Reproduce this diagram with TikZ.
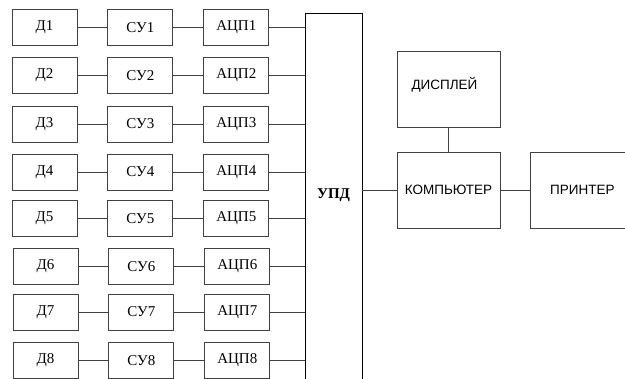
\documentclass[tikz,border=0pt]{standalone}
\usepackage{fontspec}
\setmainfont{Liberation Serif}
\newfontfamily\sansru{Liberation Sans}
\usetikzlibrary{positioning}
\tikzset{
    blk/.style={
        draw=black!75,
        line width=0.9pt,
        minimum height=36pt,
        minimum width=65pt,
        inner sep=0pt,
        font=\fontsize{15}{17}\selectfont
    },
    bigblk/.style={
        draw=black!75,
        line width=0.9pt,
        minimum height=76pt,
        minimum width=103pt,
        inner sep=0pt,
        font=\sansru\fontsize{13.5}{15}\selectfont
    },
    link/.style={draw=black!75, line width=0.9pt}
}

\begin{document}
\begin{tikzpicture}[x=1pt,y=-1pt,node distance=30pt and 30pt]
        \useasboundingbox (0,0) rectangle (625,379);
        \clip (0,0) rectangle (625,379);

        % датчики, СУ, АЦП
        \node[blk] (d1) at (44.5,27.5) {Д1};
        \node[blk, right=of d1] (su1) {СУ1};
        \node[blk, right=of su1] (adc1) {АЦП1};
        \node[blk] (d2) at (44.5,75.5) {Д2};
        \node[blk, right=of d2] (su2) {СУ2};
        \node[blk, right=of su2] (adc2) {АЦП2};
        \node[blk] (d3) at (44.5,124) {Д3};
        \node[blk, right=of d3] (su3) {СУ3};
        \node[blk, right=of su3] (adc3) {АЦП3};
        \node[blk] (d4) at (44.5,172) {Д4};
        \node[blk, right=of d4] (su4) {СУ4};
        \node[blk, right=of su4] (adc4) {АЦП4};
        \node[blk] (d5) at (44.5,218.5) {Д5};
        \node[blk, right=of d5] (su5) {СУ5};
        \node[blk, right=of su5] (adc5) {АЦП5};
        \node[blk] (d6) at (45.5,266.5) {Д6};
        \node[blk, right=of d6] (su6) {СУ6};
        \node[blk, right=of su6] (adc6) {АЦП6};
        \node[blk] (d7) at (45.5,312) {Д7};
        \node[blk, right=of d7] (su7) {СУ7};
        \node[blk, right=of su7] (adc7) {АЦП7};
        \node[blk] (d8) at (45.5,360.5) {Д8};
        \node[blk, right=of d8] (su8) {СУ8};
        \node[blk, right=of su8] (adc8) {АЦП8};

        % УПД
        \node[draw=black, line width=0.9pt, minimum width=57pt, minimum height=400pt,
              label={[font=\fontsize{15}{17}\selectfont\bfseries,yshift=18pt]center:УПД}]
              (upd) at (333.5,213) {};

        % ЭВМ и периферия
        \node[bigblk] (comp) at (448.5,190) {КОМПЬЮТЕР};
        \node[bigblk, above=24pt of comp,
              label={[font=\sansru\fontsize{13.5}{15}\selectfont,xshift=-4pt,yshift=4pt]center:ДИСПЛЕЙ}]
              (disp) {};
        \node[bigblk, right=31pt of comp, xshift=-1pt] (prn) {ПРИНТЕР};

        \draw[link] (d1) -- (su1);
        \draw[link] (su1) -- (adc1);
        \draw[link] (d2) -- (su2);
        \draw[link] (su2) -- (adc2);
        \draw[link] (d3) -- (su3);
        \draw[link] (su3) -- (adc3);
        \draw[link] (d4) -- (su4);
        \draw[link] (su4) -- (adc4);
        \draw[link] (d5) -- (su5);
        \draw[link] (su5) -- (adc5);
        \draw[link] (d6) -- (su6);
        \draw[link] (su6) -- (adc6);
        \draw[link] (d7) -- (su7);
        \draw[link] (su7) -- (adc7);
        \draw[link] (d8) -- (su8);
        \draw[link] (su8) -- (adc8);

        \draw[link] (adc1) -- (adc1 -| upd.west);
        \draw[link] (adc2) -- (adc2 -| upd.west);
        \draw[link] (adc3) -- (adc3 -| upd.west);
        \draw[link] (adc4) -- (adc4 -| upd.west);
        \draw[link] (adc5) -- (adc5 -| upd.west);
        \draw[link] (adc6) -- (adc6 -| upd.west);
        \draw[link] (adc7) -- (adc7 -| upd.west);
        \draw[link] (adc8) -- (adc8 -| upd.west);

        \draw[link] (upd.east |- comp) -- (comp);
        \draw[link] (disp) -- (comp);
        \draw[link] (comp) -- (prn);
    \end{tikzpicture}
\end{document}
